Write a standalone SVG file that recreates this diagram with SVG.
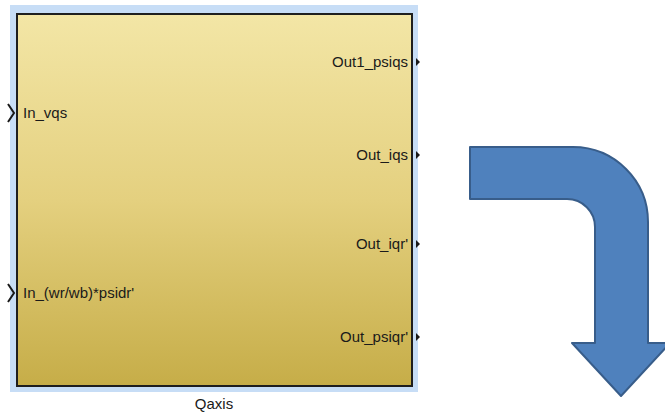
<svg xmlns="http://www.w3.org/2000/svg" width="665" height="415" viewBox="0 0 665 415">
<style>
.lbl{font-family:"Liberation Sans",Arial,sans-serif;font-size:15px;fill:#1a1a1a}
.r{text-anchor:end}
.port{fill:#1a1a1a}
.inport{fill:none;stroke:#1a1a1a;stroke-width:2}
</style>
<defs>
<linearGradient id="g" x1="0" y1="0" x2="0" y2="1">
<stop offset="0" stop-color="#f3e6a6"/>
<stop offset="0.5" stop-color="#e4d07f"/>
<stop offset="1" stop-color="#c6ad48"/>
</linearGradient>
</defs>
<rect width="665" height="415" fill="#ffffff"/>
<g id="qaxis">
<rect x="10" y="5" width="408" height="387" fill="#c7ddf6"/>
<rect x="17" y="14" width="395" height="372" fill="url(#g)" stroke="#1e1e1e" stroke-width="2"/>
<text class="lbl" x="214" y="409" text-anchor="middle">Qaxis</text>
<path class="inport" d="M8,104 L14,113 L8,122"/>
<text class="lbl" x="23" y="118">In_vqs</text>
<path class="inport" d="M8,284 L14,293 L8,302"/>
<text class="lbl" x="23" y="298">In_(wr/wb)*psidr'</text>
<text class="lbl r" x="408" y="67">Out1_psiqs</text>
<path class="port" d="M416,58 L420,62 L416,66 Z"/>
<text class="lbl r" x="408" y="160">Out_iqs</text>
<path class="port" d="M416,151 L420,155 L416,159 Z"/>
<text class="lbl r" x="408" y="249">Out_iqr'</text>
<path class="port" d="M416,240 L420,244 L416,248 Z"/>
<text class="lbl r" x="408" y="342">Out_psiqr'</text>
<path class="port" d="M416,333 L420,337 L416,341 Z"/>
</g>
<g id="arrow">
<path d="M470,147 H573 A75,75 0 0 1 648,222 V343 H670 L621,396 L572,343 H595 V227 A28,28 0 0 0 567,199 H470 Z" fill="#4f81bd" stroke="#385d8a" stroke-width="2" stroke-linejoin="round"/>
</g>
</svg>
